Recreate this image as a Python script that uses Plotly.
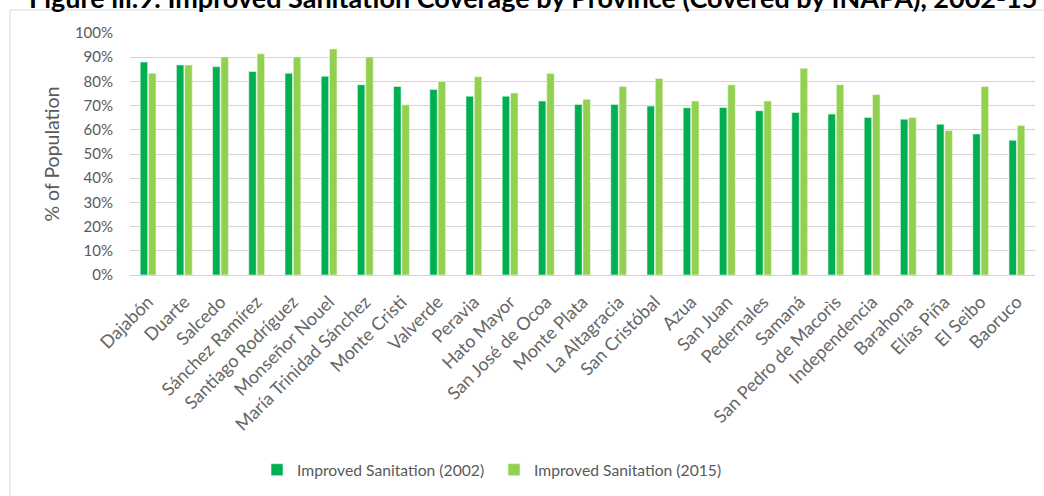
import plotly.graph_objects as go

provinces = [
    "Dajabón", "Duarte", "Salcedo", "Sánchez Ramírez", "Santiago Rodríguez",
    "Monseñor Nouel", "María Trinidad Sánchez", "Monte Cristi", "Valverde",
    "Peravia", "Hato Mayor", "San José de Ocoa", "Monte Plata", "La Altagracia",
    "San Cristóbal", "Azua", "San Juan", "Pedernales", "Samaná",
    "San Pedro de Macorìs", "Independencia", "Barahona", "Elías Piña",
    "El Seibo", "Baoruco",
]
sanitation_2002 = [
    88.0, 86.8, 86.1, 84.1, 83.4, 82.1, 78.6, 77.9, 76.7, 73.9, 73.9, 71.9,
    70.5, 70.5, 69.8, 69.1, 69.2, 67.9, 67.2, 66.5, 65.1, 64.4, 62.3, 58.3, 55.7,
]
sanitation_2015 = [
    83.4, 86.8, 90.1, 91.4, 90.1, 93.4, 90.1, 70.3, 80.0, 81.9, 75.2, 83.3,
    72.6, 77.9, 81.2, 71.9, 78.6, 71.9, 85.4, 78.6, 74.6, 65.1, 59.7, 77.9, 61.8,
]
y_ticks = [0, 10, 20, 30, 40, 50, 60, 70, 80, 90, 100]
y_tick_labels = [f"{t}%" for t in y_ticks]

W, H = 1044, 496
L, R, T, B = 130, 9, 33, 221
plot_w = W - L - R
plot_h = H - T - B


def px_x(p):
    return (p - L) / plot_w


def px_y(p):
    return (H - B - p) / plot_h


FONT = "Lato, 'Open Sans', sans-serif"
GREY = "#595959"

fig = go.Figure()
fig.add_trace(go.Bar(
    x=provinces, y=[v / 100 for v in sanitation_2002],
    name="Improved Sanitation (2002)",
    marker=dict(color="#00B050", line=dict(color="#e8f7ee", width=0.6)),
))
fig.add_trace(go.Bar(
    x=provinces, y=[v / 100 for v in sanitation_2015],
    name="Improved Sanitation (2015)",
    marker=dict(color="#92D050", line=dict(color="#f1f9e8", width=0.6)),
))

fig.update_layout(
    width=W, height=H,
    margin=dict(l=L, r=R, t=T, b=B, pad=0),
    paper_bgcolor="white", plot_bgcolor="white",
    barmode="group", bargap=0.54, bargroupgap=0.1,
    font=dict(family=FONT, color=GREY, size=15),
    showlegend=True,
    legend=dict(
        orientation="h", x=px_x(257), y=px_y(470),
        xanchor="left", yanchor="middle",
        font=dict(size=15.7, color=GREY), entrywidth=192, entrywidthmode="pixels",
        bgcolor="rgba(0,0,0,0)",
    ),
    xaxis=dict(
        tickangle=-45, showgrid=False, showline=False, ticks="",
        tickfont=dict(size=18, color="#666666"), ticklabelstandoff=12,
    ),
    yaxis=dict(
        range=[0, 1], tickvals=[t / 100 for t in y_ticks], ticktext=y_tick_labels,
        showgrid=True, gridcolor="#d4d4d4", gridwidth=1,
        zeroline=True, zerolinecolor="#d4d4d4", zerolinewidth=1,
        showline=False, ticks="", ticklabelstandoff=16,
        tickfont=dict(size=15, color=GREY),
        title=dict(text="% of Population", font=dict(size=19.5, color=GREY), standoff=10),
    ),
)

# Chart-area frame
fig.add_shape(
    type="rect", xref="paper", yref="paper",
    x0=px_x(10), x1=px_x(1070), y0=px_y(520), y1=px_y(10),
    line=dict(color="#d9d9d9", width=1), fillcolor="rgba(0,0,0,0)", layer="below",
)

# Figure caption sitting above the frame
fig.add_annotation(
    text="<b>Figure iii.9: Improved Sanitation Coverage by Province (Covered by INAPA), 2002-15</b>",
    xref="paper", yref="paper", x=px_x(27), y=px_y(16), xanchor="left", yanchor="bottom",
    showarrow=False, font=dict(family=FONT, size=27, color="black"),
)

fig.write_html("out.html")
